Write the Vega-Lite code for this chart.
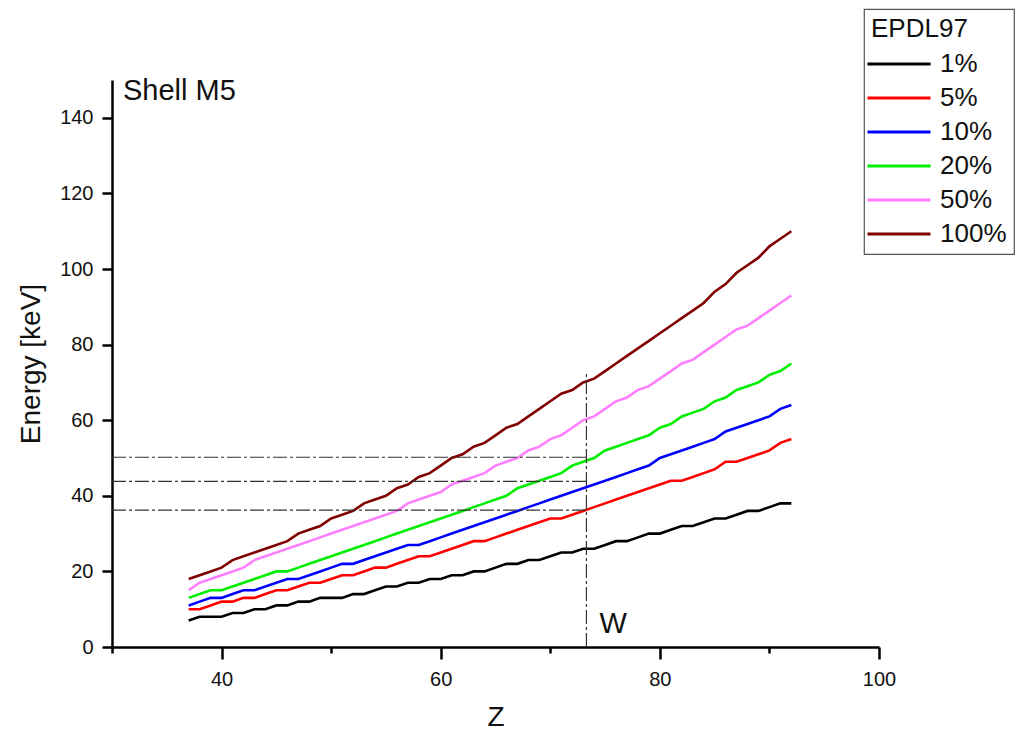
{
  "$schema": "https://vega.github.io/schema/vega-lite/v6.json",
  "autosize": "none",
  "width": 767,
  "height": 567,
  "padding": {"left": 112, "top": 80, "right": 138, "bottom": 84},
  "background": "white",
  "config": {
    "view": {"stroke": null},
    "font": "Liberation Sans",
    "axis": {
      "domainColor": "#000", "domainWidth": 2.5, "tickColor": "#000", "tickWidth": 2.5,
      "labelFont": "Liberation Sans", "labelFontSize": 20, "labelColor": "#111",
      "titleFont": "Liberation Sans", "titleFontSize": 28, "titleFontWeight": "normal", "titleColor": "#111",
      "grid": false
    },
    "legend": {
      "orient": "none", "legendX": 752, "legendY": -71,
      "strokeColor": "#555", "strokeWidth": 1.2, "padding": 7, "fillColor": "white",
      "titleFont": "Liberation Sans", "titleFontSize": 26, "titleFontWeight": "normal", "titleColor": "#111",
      "labelFont": "Liberation Sans", "labelFontSize": 26, "labelColor": "#111",
      "symbolType": "M-5,0H5", "symbolSize": 159, "symbolStrokeWidth": 3, "symbolOffset": 15,
      "rowPadding": 8, "labelOffset": 28, "titlePadding": 9
    }
  },
  "datasets": {
    "curves": [
      {"Z":37,"1%":7,"5%":10,"10%":11,"20%":13,"50%":15,"100%":18},
      {"Z":38,"1%":8,"5%":10,"10%":12,"20%":14,"50%":17,"100%":19},
      {"Z":39,"1%":8,"5%":11,"10%":13,"20%":15,"50%":18,"100%":20},
      {"Z":40,"1%":8,"5%":12,"10%":13,"20%":15,"50%":19,"100%":21},
      {"Z":41,"1%":9,"5%":12,"10%":14,"20%":16,"50%":20,"100%":23},
      {"Z":42,"1%":9,"5%":13,"10%":15,"20%":17,"50%":21,"100%":24},
      {"Z":43,"1%":10,"5%":13,"10%":15,"20%":18,"50%":23,"100%":25},
      {"Z":44,"1%":10,"5%":14,"10%":16,"20%":19,"50%":24,"100%":26},
      {"Z":45,"1%":11,"5%":15,"10%":17,"20%":20,"50%":25,"100%":27},
      {"Z":46,"1%":11,"5%":15,"10%":18,"20%":20,"50%":26,"100%":28},
      {"Z":47,"1%":12,"5%":16,"10%":18,"20%":21,"50%":27,"100%":30},
      {"Z":48,"1%":12,"5%":17,"10%":19,"20%":22,"50%":28,"100%":31},
      {"Z":49,"1%":13,"5%":17,"10%":20,"20%":23,"50%":29,"100%":32},
      {"Z":50,"1%":13,"5%":18,"10%":21,"20%":24,"50%":30,"100%":34},
      {"Z":51,"1%":13,"5%":19,"10%":22,"20%":25,"50%":31,"100%":35},
      {"Z":52,"1%":14,"5%":19,"10%":22,"20%":26,"50%":32,"100%":36},
      {"Z":53,"1%":14,"5%":20,"10%":23,"20%":27,"50%":33,"100%":38},
      {"Z":54,"1%":15,"5%":21,"10%":24,"20%":28,"50%":34,"100%":39},
      {"Z":55,"1%":16,"5%":21,"10%":25,"20%":29,"50%":35,"100%":40},
      {"Z":56,"1%":16,"5%":22,"10%":26,"20%":30,"50%":36,"100%":42},
      {"Z":57,"1%":17,"5%":23,"10%":27,"20%":31,"50%":38,"100%":43},
      {"Z":58,"1%":17,"5%":24,"10%":27,"20%":32,"50%":39,"100%":45},
      {"Z":59,"1%":18,"5%":24,"10%":28,"20%":33,"50%":40,"100%":46},
      {"Z":60,"1%":18,"5%":25,"10%":29,"20%":34,"50%":41,"100%":48},
      {"Z":61,"1%":19,"5%":26,"10%":30,"20%":35,"50%":43,"100%":50},
      {"Z":62,"1%":19,"5%":27,"10%":31,"20%":36,"50%":44,"100%":51},
      {"Z":63,"1%":20,"5%":28,"10%":32,"20%":37,"50%":45,"100%":53},
      {"Z":64,"1%":20,"5%":28,"10%":33,"20%":38,"50%":46,"100%":54},
      {"Z":65,"1%":21,"5%":29,"10%":34,"20%":39,"50%":48,"100%":56},
      {"Z":66,"1%":22,"5%":30,"10%":35,"20%":40,"50%":49,"100%":58},
      {"Z":67,"1%":22,"5%":31,"10%":36,"20%":42,"50%":50,"100%":59},
      {"Z":68,"1%":23,"5%":32,"10%":37,"20%":43,"50%":52,"100%":61},
      {"Z":69,"1%":23,"5%":33,"10%":38,"20%":44,"50%":53,"100%":63},
      {"Z":70,"1%":24,"5%":34,"10%":39,"20%":45,"50%":55,"100%":65},
      {"Z":71,"1%":25,"5%":34,"10%":40,"20%":46,"50%":56,"100%":67},
      {"Z":72,"1%":25,"5%":35,"10%":41,"20%":48,"50%":58,"100%":68},
      {"Z":73,"1%":26,"5%":36,"10%":42,"20%":49,"50%":60,"100%":70},
      {"Z":74,"1%":26,"5%":37,"10%":43,"20%":50,"50%":61,"100%":71},
      {"Z":75,"1%":27,"5%":38,"10%":44,"20%":52,"50%":63,"100%":73},
      {"Z":76,"1%":28,"5%":39,"10%":45,"20%":53,"50%":65,"100%":75},
      {"Z":77,"1%":28,"5%":40,"10%":46,"20%":54,"50%":66,"100%":77},
      {"Z":78,"1%":29,"5%":41,"10%":47,"20%":55,"50%":68,"100%":79},
      {"Z":79,"1%":30,"5%":42,"10%":48,"20%":56,"50%":69,"100%":81},
      {"Z":80,"1%":30,"5%":43,"10%":50,"20%":58,"50%":71,"100%":83},
      {"Z":81,"1%":31,"5%":44,"10%":51,"20%":59,"50%":73,"100%":85},
      {"Z":82,"1%":32,"5%":44,"10%":52,"20%":61,"50%":75,"100%":87},
      {"Z":83,"1%":32,"5%":45,"10%":53,"20%":62,"50%":76,"100%":89},
      {"Z":84,"1%":33,"5%":46,"10%":54,"20%":63,"50%":78,"100%":91},
      {"Z":85,"1%":34,"5%":47,"10%":55,"20%":65,"50%":80,"100%":94},
      {"Z":86,"1%":34,"5%":49,"10%":57,"20%":66,"50%":82,"100%":96},
      {"Z":87,"1%":35,"5%":49,"10%":58,"20%":68,"50%":84,"100%":99},
      {"Z":88,"1%":36,"5%":50,"10%":59,"20%":69,"50%":85,"100%":101},
      {"Z":89,"1%":36,"5%":51,"10%":60,"20%":70,"50%":87,"100%":103},
      {"Z":90,"1%":37,"5%":52,"10%":61,"20%":72,"50%":89,"100%":106},
      {"Z":91,"1%":38,"5%":54,"10%":63,"20%":73,"50%":91,"100%":108},
      {"Z":92,"1%":38,"5%":55,"10%":64,"20%":75,"50%":93,"100%":110}
    ],
    "guides": [
      {"x": 30, "x2": 73.3, "y": 36.2, "y2": 36.2},
      {"x": 30, "x2": 73.3, "y": 43.8, "y2": 43.8},
      {"x": 30, "x2": 73.3, "y": 50.2, "y2": 50.2},
      {"x": 73.3, "x2": 73.3, "y": 0, "y2": 72.6}
    ],
    "notes": [
      {"x": 31, "y": 144.6, "t": "Shell M5"},
      {"x": 74.5, "y": 3.6, "t": "W"}
    ]
  },
  "layer": [
    {
      "data": {"name": "curves"},
      "transform": [{"fold": ["1%", "5%", "10%", "20%", "50%", "100%"], "as": ["key", "value"]}],
      "mark": {"type": "line", "strokeWidth": 2.6, "clip": false},
      "encoding": {
        "x": {
          "field": "Z", "type": "quantitative",
          "scale": {"domain": [30, 100], "nice": false},
          "axis": {
            "title": "Z", "values": [30, 40, 50, 60, 70, 80, 90, 100],
            "labelExpr": "datum.value % 20 == 0 && datum.value > 30 ? datum.label : ''",
            "tickSize": {"expr": "datum.value % 20 == 0 ? 12 : 6"},
            "labelPadding": 10, "titlePadding": 14, "labelFlush": false
          }
        },
        "y": {
          "field": "value", "type": "quantitative",
          "scale": {"domain": [0, 150], "nice": false},
          "axis": {
            "title": "Energy [keV]", "values": [0, 20, 40, 60, 80, 100, 120, 140],
            "tickSize": 10, "labelPadding": 9, "titlePadding": 14, "labelFlush": false
          }
        },
        "color": {
          "field": "key", "type": "nominal", "title": "EPDL97",
          "sort": ["1%", "5%", "10%", "20%", "50%", "100%"],
          "scale": {"domain": ["1%", "5%", "10%", "20%", "50%", "100%"], "range": ["#000000", "#ff0000", "#0000ff", "#00ee00", "#ff80ff", "#800000"]}
        }
      }
    },
    {
      "data": {"name": "guides"},
      "mark": {"type": "rule", "color": "#333", "strokeWidth": 1.2, "strokeDash": [14, 3, 3, 3]},
      "encoding": {
        "x": {"field": "x", "type": "quantitative"},
        "x2": {"field": "x2"},
        "y": {"field": "y", "type": "quantitative"},
        "y2": {"field": "y2"}
      }
    },
    {
      "data": {"name": "notes"},
      "mark": {"type": "text", "align": "left", "baseline": "alphabetic", "fontSize": 29, "font": "Liberation Sans", "color": "#111"},
      "encoding": {
        "x": {"field": "x", "type": "quantitative"},
        "y": {"field": "y", "type": "quantitative"},
        "text": {"field": "t"}
      }
    }
  ]
}
